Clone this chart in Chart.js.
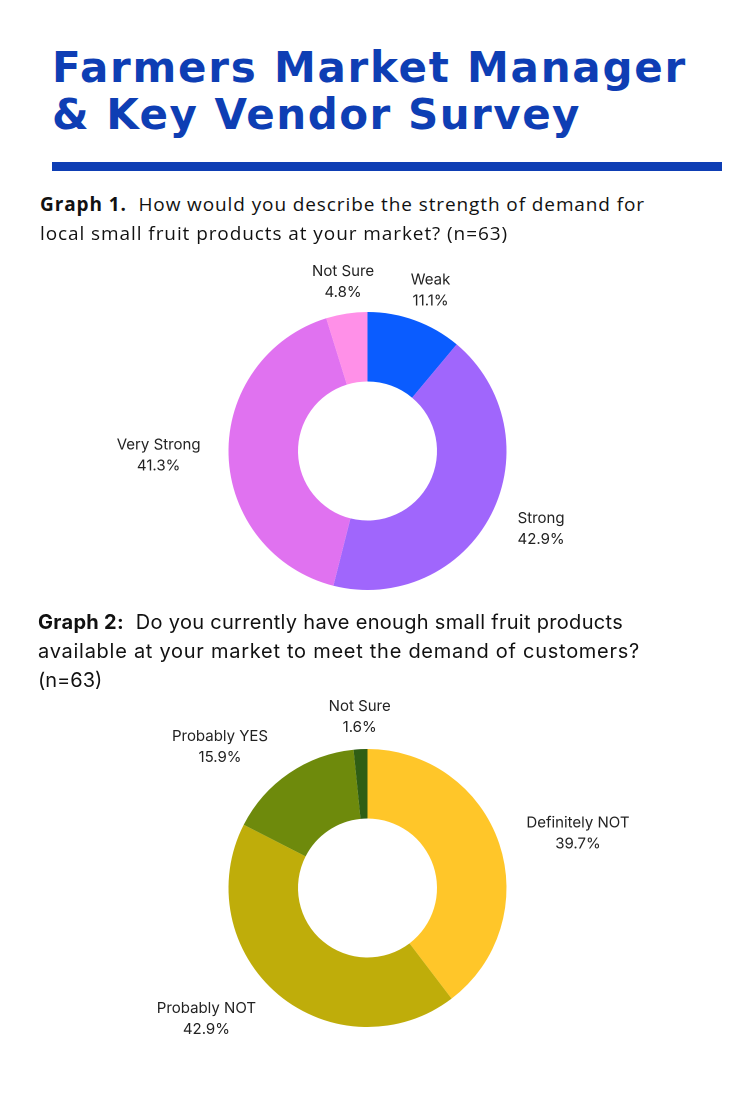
<!DOCTYPE html>
<html lang="en">
  <head>
    <meta charset="UTF-8" />
    <title>Farmers Market Manager &amp; Key Vendor Survey</title>
    <style>
      html, body { margin: 0; padding: 0; background: #fff; }
      body { width: 735px; height: 1102px; position: relative; overflow: hidden; }
      .line { position: absolute; white-space: nowrap; line-height: 1; }
      .title { font-family: "DejaVu Sans", sans-serif; font-weight: 700; color: #0e3eb4; font-size: 42px; }
      .cap1 { font-family: "Open Sans", sans-serif; color: #111; font-size: 19px; }
      .cap2 { font-family: Inter, sans-serif; color: #111; font-size: 20px; }
      .line b { font-weight: 700; }
      .rule { position: absolute; left: 52px; top: 162px; width: 670px; height: 9px; background: #0e3eb4; }
      canvas { position: absolute; left: 0; }
    </style>
  </head>
  <body>
    <canvas id="demandChart" width="735" height="440" style="top: 231px; width: 735px; height: 440px"></canvas>
    <canvas id="supplyChart" width="735" height="440" style="top: 668px; width: 735px; height: 440px"></canvas>

    <div class="line title" data-w="635" style="left: 52px; top: 47px">Farmers Market Manager</div>
    <div class="line title" data-w="529" style="left: 52px; top: 94px">&amp; Key Vendor Survey</div>
    <div class="rule"></div>

    <div class="line cap1" data-w="605" style="left: 40px; top: 195px"><b>Graph 1.</b>&nbsp; How would you describe the strength of demand for</div>
    <div class="line cap1" data-w="468" style="left: 40px; top: 224px">local small fruit products at your market? (n=63)</div>

    <div class="line cap2" data-w="585" style="left: 38px; top: 612px"><b>Graph 2:</b>&nbsp; Do you currently have enough small fruit products</div>
    <div class="line cap2" data-w="602" style="left: 38px; top: 641px">available at your market to meet the demand of customers?</div>
    <div class="line cap2" style="left: 38px; top: 670px">(n=63)</div>

    <script src="https://cdn.jsdelivr.net/npm/chart.js"></script>
    <script>
      // Graph 1: strength of demand
      var demandLabels = ["Weak", "Strong", "Very Strong", "Not Sure"];
      var demandValues = [11.1, 42.9, 41.3, 4.8];
      var demandColors = ["#0a5cff", "#a066fc", "#e072f0", "#ff90e8"];

      // Graph 2: enough supply
      var supplyLabels = ["Definitely NOT", "Probably NOT", "Probably YES", "Not Sure"];
      var supplyValues = [39.7, 42.9, 15.9, 1.6];
      var supplyColors = ["#ffc629", "#bfad0a", "#6e8a0c", "#2f5e14"];

      // stretch each text line to the width it has in the picture
      document.querySelectorAll(".line[data-w]").forEach(function (el) {
        var target = +el.dataset.w;
        var n = el.textContent.length;
        var w = el.getBoundingClientRect().width;
        el.style.letterSpacing = (target - w) / n + "px";
      });

      // name + percent outside each slice, pushed sideways by the text width
      var outsideLabels = {
        id: "outsideLabels",
        afterDraw: function (chart) {
          var ctx = chart.ctx;
          var meta = chart.getDatasetMeta(0);
          var data = chart.data.datasets[0].data;
          ctx.save();
          ctx.font = "15px Inter, sans-serif";
          ctx.fillStyle = "#222";
          ctx.textAlign = "center";
          ctx.textBaseline = "middle";
          meta.data.forEach(function (arc, i) {
            var a = (arc.startAngle + arc.endAngle) / 2;
            var name = chart.data.labels[i];
            var pct = data[i].toFixed(1) + "%";
            var halfW = Math.max(ctx.measureText(name).width, ctx.measureText(pct).width) / 2;
            var r0 = arc.outerRadius + 16;
            var c = Math.cos(a), s = Math.sin(a);
            var k = Math.sign(c) * Math.min(1, Math.pow(2 * Math.abs(c), 3));
            var x = arc.x + r0 * c + (halfW + 12) * k;
            var y = arc.y + r0 * s + 16 * s;
            ctx.fillText(name, x, y - 10.5);
            ctx.fillText(pct, x, y + 10.5);
          });
          ctx.restore();
        },
      };

      function makeDonut(id, labels, values, colors) {
        var ctx = document.getElementById(id).getContext("2d");
        return new Chart(ctx, {
          type: "doughnut",
          data: {
            labels: labels,
            datasets: [
              {
                data: values,
                backgroundColor: colors,
                borderWidth: 0,
              },
            ],
          },
          options: {
            responsive: false,
            animation: false,
            devicePixelRatio: 2,
            cutout: "50%",
            layout: { padding: { top: 81, bottom: 81 } },
            plugins: {
              legend: { display: false },
              tooltip: { enabled: false },
            },
          },
          plugins: [outsideLabels],
        });
      }

      makeDonut("demandChart", demandLabels, demandValues, demandColors);
      makeDonut("supplyChart", supplyLabels, supplyValues, supplyColors);
    </script>
  </body>
</html>
